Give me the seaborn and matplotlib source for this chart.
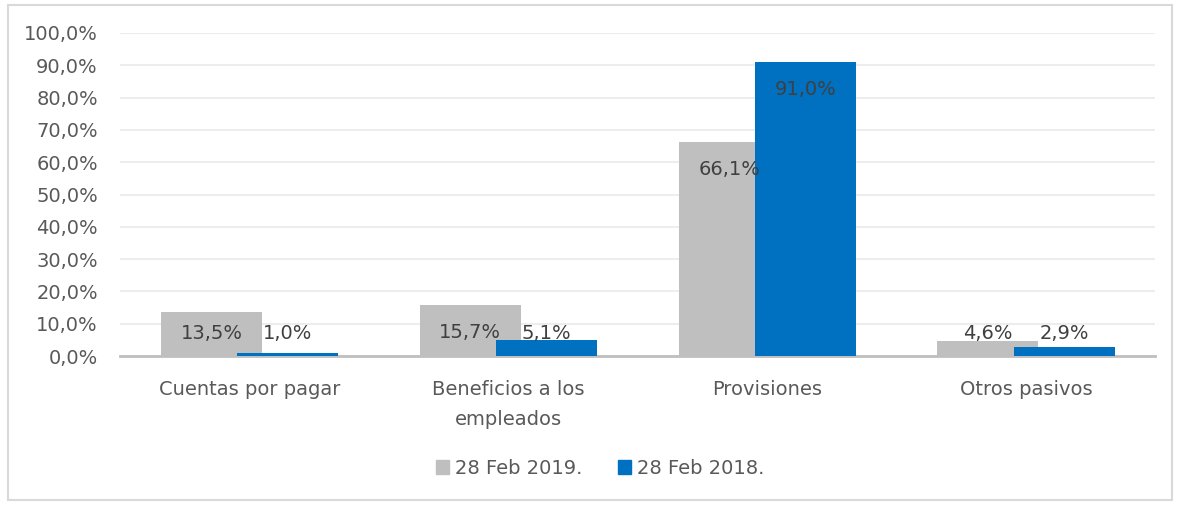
import pandas as pd
import matplotlib
matplotlib.use("Agg")
import matplotlib.pyplot as plt
import seaborn as sns
from matplotlib.patches import Rectangle

categorias = ["Cuentas por pagar", "Beneficios a los\nempleados", "Provisiones", "Otros pasivos"]
series = ["28 Feb 2019.", "28 Feb 2018."]
valores_2019 = [13.5, 15.7, 66.1, 4.6]
valores_2018 = [1.0, 5.1, 91.0, 2.9]
colores = ["#BFBFBF", "#0070C0"]

df = pd.DataFrame({
    "categoria": categorias * 2,
    "serie": [series[0]] * 4 + [series[1]] * 4,
    "valor": valores_2019 + valores_2018,
})

sns.set_style("white")
plt.rcParams["font.family"] = ["DejaVu Sans"]

fig = plt.figure(figsize=(11.79, 5.05), dpi=100)
ax = fig.add_axes([0.1018, 0.295, 0.8782, 0.6397])

# overlapping bars as in the Excel original (negative gap widens each bar)
sns.barplot(data=df, x="categoria", y="valor", hue="serie", order=categorias,
            hue_order=series, palette=colores, width=0.588, gap=-0.327,
            saturation=1, linewidth=0, ax=ax, legend=False, zorder=3)

ax.set_ylim(0, 100)
ax.set_xlim(-0.5, 3.5)
ax.set_yticks(range(0, 101, 10))
ax.set_yticklabels([f"{v},0%" for v in range(0, 101, 10)])
ax.grid(axis="y", color="#EDEDED", linewidth=1.5, zorder=0)
ax.set_axisbelow(True)
for s in ["left", "right", "top"]:
    ax.spines[s].set_visible(False)
ax.spines["bottom"].set_color("#BFBFBF")
ax.spines["bottom"].set_linewidth(2)
ax.tick_params(axis="y", length=0, pad=16, labelsize=14, labelcolor="#595959")
ax.tick_params(axis="x", length=0, pad=17, labelsize=14, labelcolor="#595959")
ax.set_xticks(range(len(categorias)), categorias, linespacing=1.75)
ax.set_xlabel("")
ax.set_ylabel("")

# data labels near the top of each bar, Spanish decimal comma
for cont in ax.containers:
    for bar in cont:
        h = bar.get_height()
        y = max(h - 8.5, 7.1)
        ax.text(bar.get_x() + bar.get_width() / 2, y, f"{h:.1f}%".replace(".", ","),
                ha="center", va="center", fontsize=14, color="#404040", zorder=5)

handles = [Rectangle((0, 0), 1, 1, color=c) for c in colores]
fig.legend(handles, series, loc="center", bbox_to_anchor=(0.509, 0.073), ncol=2,
           frameon=False, fontsize=14, labelcolor="#595959", handlelength=0.7,
           handleheight=0.7, handletextpad=0.3, columnspacing=1.8)

fig.patches.append(Rectangle((0.007, 0.01), 0.987, 0.98, transform=fig.transFigure,
                             fill=False, edgecolor="#D9D9D9", linewidth=1.5))

fig.savefig("out.png", dpi=100)
